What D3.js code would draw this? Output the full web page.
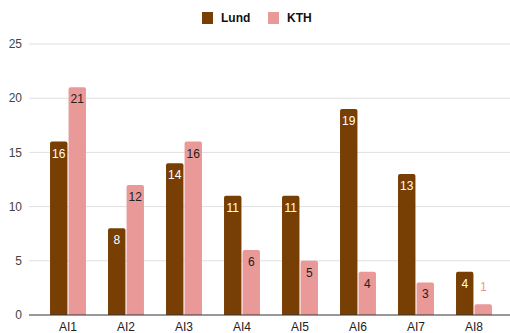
<!DOCTYPE html>
<html>
<head>
<meta charset="utf-8">
<script src="https://cdn.jsdelivr.net/npm/d3@7"></script>
<style>
  body { margin: 0; background: #fff; }
  text { font-family: "Liberation Sans", Arial, sans-serif; }
</style>
</head>
<body>
<svg id="chart" width="510" height="333"></svg>
<script>
const categories = ["AI1", "AI2", "AI3", "AI4", "AI5", "AI6", "AI7", "AI8"];
const series = ["Lund", "KTH"];
const lund = [16, 8, 14, 11, 11, 19, 13, 4];
const kth = [21, 12, 16, 6, 5, 4, 3, 1];
const yTicks = [0, 5, 10, 15, 20, 25];

const colors = { Lund: "#783f04", KTH: "#ea9999" };
const labelColors = { Lund: "#ffffff", KTH: "#222222" };

const svg = d3.select("#chart");

const x0 = d3.scaleBand()
  .domain(categories)
  .range([39, 503])
  .paddingInner(0.38)
  .paddingOuter(0.19);

const x1 = d3.scaleBand()
  .domain(series)
  .range([0, x0.bandwidth()])
  .paddingInner(0.06);

const y = d3.scaleLinear()
  .domain([0, 25])
  .range([315, 44]);

// gridlines
svg.append("g")
  .selectAll("line")
  .data(yTicks.filter(d => d > 0))
  .join("line")
  .attr("x1", 29)
  .attr("x2", 510)
  .attr("y1", d => y(d))
  .attr("y2", d => y(d))
  .attr("stroke", "#e0e0e0")
  .attr("stroke-width", 1);

// y labels
svg.append("g")
  .selectAll("text")
  .data(yTicks)
  .join("text")
  .attr("x", 22)
  .attr("y", d => y(d))
  .attr("dy", "0.35em")
  .attr("text-anchor", "end")
  .attr("font-size", 12)
  .attr("fill", "#444")
  .text(d => d);

const rows = categories.map((c, i) => ({ cat: c, Lund: lund[i], KTH: kth[i] }));

const groups = svg.append("g")
  .selectAll("g")
  .data(rows)
  .join("g")
  .attr("transform", d => `translate(${x0(d.cat)},0)`);

const bars = groups.selectAll("g")
  .data(d => series.map(s => ({ key: s, value: d[s] })))
  .join("g");

bars.append("path")
  .attr("fill", d => colors[d.key])
  .attr("d", d => {
    const bx = x1(d.key), bw = x1.bandwidth();
    const top = y(d.value), bot = y(0), r = 2;
    return `M${bx},${bot}V${top + r}Q${bx},${top} ${bx + r},${top}H${bx + bw - r}Q${bx + bw},${top} ${bx + bw},${top + r}V${bot}Z`;
  });

// value labels: inside the bar when it fits, above it otherwise
const fits = d => y(0) - y(d.value) > 22;

bars.append("text")
  .attr("x", d => x1(d.key) + x1.bandwidth() / 2)
  .attr("y", d => fits(d) ? y(d.value) + 16 : y(d.value) - 13)
  .attr("text-anchor", "middle")
  .attr("font-size", 12)
  .attr("fill", d => fits(d) ? labelColors[d.key] : colors[d.key])
  .text(d => d.value);

// baseline
svg.append("line")
  .attr("x1", 29)
  .attr("x2", 510)
  .attr("y1", y(0))
  .attr("y2", y(0))
  .attr("stroke", "#333")
  .attr("stroke-width", 1);

// x labels
svg.append("g")
  .selectAll("text")
  .data(categories)
  .join("text")
  .attr("x", d => x0(d) + x0.bandwidth() / 2)
  .attr("y", 331)
  .attr("text-anchor", "middle")
  .attr("font-size", 12)
  .attr("fill", "#222")
  .text(d => d);

// legend
const legend = svg.append("g");
const legendX = { Lund: 202, KTH: 268 };
series.forEach(s => {
  legend.append("rect")
    .attr("x", legendX[s])
    .attr("y", 12)
    .attr("width", 11)
    .attr("height", 12)
    .attr("fill", colors[s]);
  legend.append("text")
    .attr("x", legendX[s] + 19)
    .attr("y", 22)
    .attr("font-size", 12)
    .attr("font-weight", "bold")
    .attr("fill", "#111")
    .text(s);
});
</script>
</body>
</html>
